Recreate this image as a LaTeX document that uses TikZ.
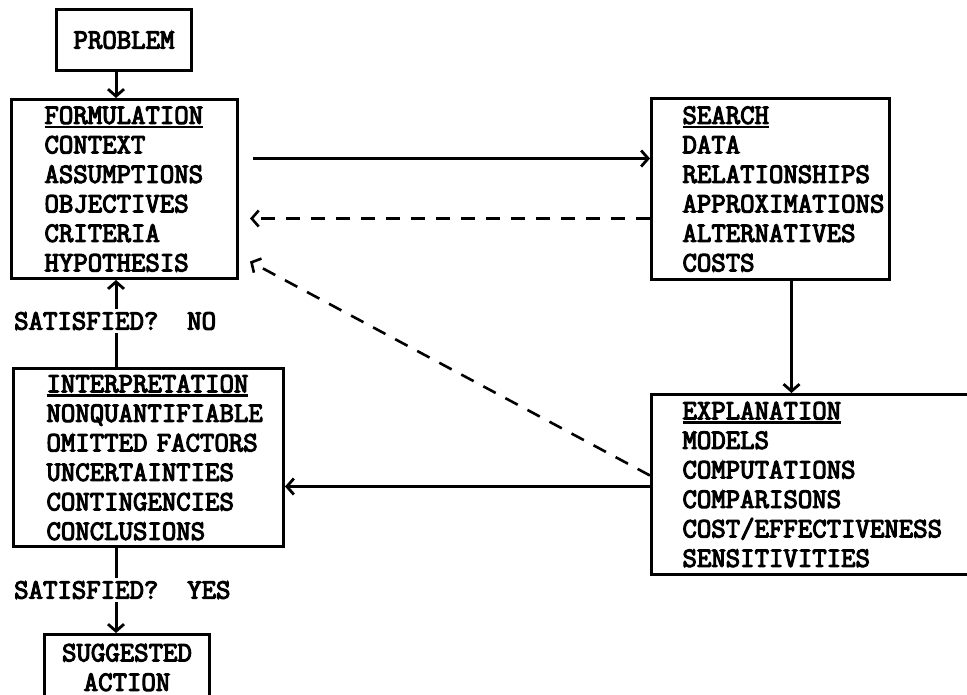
\documentclass[tikz,border=0pt]{standalone}
\usepackage{fontspec}
\setmonofont{Latin Modern Mono}[AutoFakeBold=4]
\usetikzlibrary{arrows.meta,calc}
\newcommand\hdr[1]{\setbox0\hbox{#1}\rlap{\rule[-4.5pt]{\wd0}{2.6pt}}\box0}
\tikzset{
  fnt/.style={font=\fontsize{28}{29.5}\selectfont\ttfamily\bfseries},
  box/.style={draw, line width=3pt, align=left, inner ysep=0pt, anchor=north west, fnt},
  cbox/.style={draw, line width=3pt, align=center, inner sep=0pt, anchor=north west, fnt},
  lbl/.style={fill=white, inner xsep=0pt, inner ysep=3pt, anchor=west, fnt},
  conn/.style={line width=3pt, -{Straight Barb[length=7pt,width=16pt,line width=2.8pt]}},
  dconn/.style={line width=2.6pt, dash pattern=on 14pt off 11pt,
    -{Straight Barb[length=7pt,width=16pt,line width=2.6pt]}}
}
\begin{document}
\begin{tikzpicture}[x=1pt,y=-1pt]
\useasboundingbox (0,0) rectangle (967,694);
\clip (0,0) rectangle (967,694);
\coordinate (vx) at (116,0);
\node[cbox, minimum width=135pt, minimum height=61pt] (problem) at (55,8) {PROBLEM};
\node[box, text width=160pt, inner xsep=33pt, minimum height=179pt] (form) at (10,98)
  {\hdr{FORMULATION}\\CONTEXT\\ASSUMPTIONS\\OBJECTIVES\\CRITERIA\\HYPOTHESIS};
\node[box, text width=176pt, inner xsep=31pt, minimum height=181pt] (search) at (650,97)
  {\hdr{SEARCH}\\DATA\\RELATIONSHIPS\\APPROXIMATIONS\\ALTERNATIVES\\COSTS};
\node[box, text width=278pt, inner xsep=31pt, minimum height=180pt] (expl) at (650,393)
  {\hdr{EXPLANATION}\\MODELS\\COMPUTATIONS\\COMPARISONS\\COST/EFFECTIVENESS\\SENSITIVITIES};
\node[box, text width=204pt, inner xsep=33pt, minimum height=178pt] (interp) at (12,367)
  {\hdr{INTERPRETATION}\\NONQUANTIFIABLE\\OMITTED~FACTORS\\UNCERTAINTIES\\CONTINGENCIES\\CONCLUSIONS};
\node[cbox, minimum width=165pt, minimum height=66pt] (sugg) at (43,633) {SUGGESTED\\ACTION};

% connectors
\draw[conn] (problem.south -| vx) -- (form.north -| vx);
\draw[conn] ($(form.east)+(14,-30.5)$) -- ($(search.west)+(0,-30.5)$);
\draw[dconn] ($(search.west)+(0,29.5)$) -- ($(form.east)+(11,29.5)$);
\draw[dconn] ($(expl.west)+(0,-9)$) -- ($(form.east)+(11,72.5)$);
\draw[conn] ([xshift=21pt]search.south) -- ([xshift=21pt]search.south |- expl.north);
\draw[conn] (expl.west) ++(0,2) coordinate (e1) -- (e1 -| interp.east);
\draw[conn] (interp.north -| vx) -- (form.south -| vx);
\draw[conn] (interp.south -| vx) -- (sugg.north -| vx);
\node[lbl] (no) at (14,321) {SATISFIED?~~NO};
\node[lbl] (yes) at (14,590) {SATISFIED?~~YES};
\end{tikzpicture}
\end{document}
